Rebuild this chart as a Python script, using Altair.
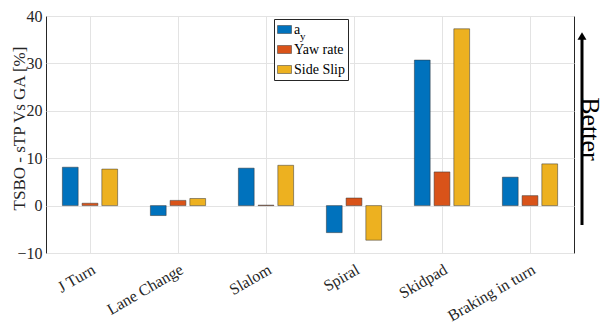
import altair as alt
import pandas as pd

categories = ["J Turn", "Lane Change", "Slalom", "Spiral", "Skidpad", "Braking in turn"]
series = ["ay", "Yaw rate", "Side Slip"]
ay_vals = [8.1, -2.1, 7.9, -5.7, 30.7, 6.0]
yaw_vals = [0.5, 1.1, 0.1, 1.6, 7.1, 2.1]
slip_vals = [7.7, 1.5, 8.5, -7.3, 37.3, 8.8]
colors = ["#0072BD", "#D95319", "#EDB120"]
y_ticks = [-10, 0, 10, 20, 30, 40]

rows = []
for s, vals in zip(series, [ay_vals, yaw_vals, slip_vals]):
    for c, v in zip(categories, vals):
        rows.append({"test": c, "metric": s, "value": v})
df = pd.DataFrame(rows)

FONT = "Liberation Serif"
W, H = 528, 237

bars = alt.Chart(df).mark_bar(stroke="#333333", strokeWidth=0.5).encode(
    x=alt.X("test:N", sort=categories,
            scale=alt.Scale(paddingInner=0, paddingOuter=0),
            axis=alt.Axis(title=None, labelAngle=-30, labelAlign="right", labelBaseline="top",
                          labelFont=FONT, labelFontSize=16, labelColor="#262626",
                          labelPadding=8, ticks=False, domain=False, grid=True,
                          bandPosition=0.5, gridColor="#e3e3e3")),
    xOffset=alt.XOffset("metric:N", sort=series,
                        scale=alt.Scale(paddingInner=0.2, paddingOuter=0.83)),
    y=alt.Y("value:Q", scale=alt.Scale(domain=[-10, 40], nice=False, zero=False),
            axis=alt.Axis(title="TSBO - sTP Vs GA [%]", values=y_ticks, format="d",
                          labelFont=FONT, labelFontSize=16, labelColor="#262626",
                          titleFont=FONT, titleFontSize=17, titleFontWeight="normal",
                          titleColor="#262626", titleX=-27, titleY=112,
                          titleBaseline="middle", titleAlign="center",
                          ticks=False, domain=False, grid=True, gridColor="#e3e3e3",
                          labelPadding=4)),
    color=alt.Color("metric:N", sort=series,
                    scale=alt.Scale(domain=series, range=colors),
                    legend=alt.Legend(title=None, orient="none", legendX=228, legendY=3,
                                      labelExpr="datum.label == 'ay' ? 'a' : datum.label",
                                      labelFont=FONT, labelFontSize=14, labelColor="#000",
                                      symbolType="M-1,-0.57H1V0.57H-1Z", symbolSize=196,
                                      symbolStrokeColor="#333", symbolStrokeWidth=0.5,
                                      symbolOpacity=1,
                                      strokeColor="#262626", fillColor="transparent",
                                      padding=3, rowPadding=5, labelOffset=2)),
)

legend_bg = alt.Chart(pd.DataFrame({"a": [0]})).mark_rect(color="white", opacity=1).encode(
    x=alt.value(229), x2=alt.value(304), y=alt.value(4), y2=alt.value(61))

sub = alt.Chart(pd.DataFrame({"t": ["y"]})).mark_text(
    font=FONT, fontSize=11, align="left", baseline="middle", color="#000"
).encode(x=alt.value(254), y=alt.value(21), text="t:N")

arrow_line = alt.Chart(pd.DataFrame({"a": [0]})).mark_rule(color="black", strokeWidth=3).encode(
    x=alt.value(536), y=alt.value(209), y2=alt.value(22))
arrow_head = alt.Chart(pd.DataFrame({"a": [0]})).mark_point(
    shape="triangle-up", filled=True, color="black", size=80, opacity=1
).encode(x=alt.value(536), y=alt.value(20))
better = alt.Chart(pd.DataFrame({"t": ["Better"]})).mark_text(
    font=FONT, fontSize=26, angle=90, align="center", baseline="middle", color="#000"
).encode(x=alt.value(544), y=alt.value(113), text="t:N")

chart = alt.layer(bars, legend_bg, sub, arrow_line, arrow_head, better).properties(
    width=W, height=H,
    autosize=alt.AutoSizeParams(type="none"),
    padding={"left": 38, "top": 8, "right": 30, "bottom": 71},
).configure_view(stroke="#262626", strokeWidth=1)

chart.save("out.html", embed_options={"renderer": "svg", "actions": False})
